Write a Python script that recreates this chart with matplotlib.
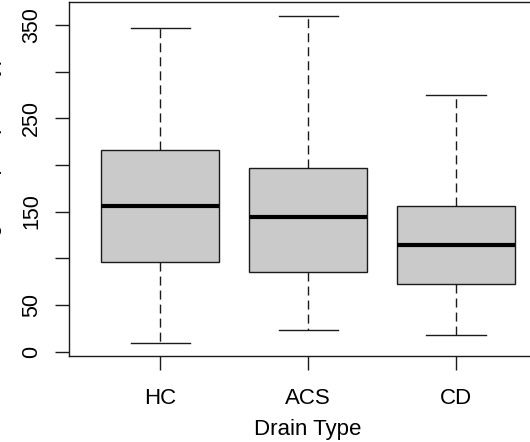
import matplotlib
matplotlib.use("Agg")
import matplotlib.pyplot as plt

plt.rcParams['font.family'] = ['Liberation Sans', 'DejaVu Sans']

# box statistics
drain_types = ["HC", "ACS", "CD"]
whisker_low = [9, 23, 18]
q1 = [96, 85, 72]
medians = [156, 144, 114]
q3 = [216, 197, 156]
whisker_high = [347, 360, 275]

y_ticks = [0, 50, 100, 150, 200, 250, 300, 350]
y_tick_labels = ["0", "50", "", "150", "", "250", "", "350"]

stats = []
for i in range(len(drain_types)):
    stats.append({
        "label": drain_types[i],
        "whislo": whisker_low[i],
        "q1": q1[i],
        "med": medians[i],
        "q3": q3[i],
        "whishi": whisker_high[i],
        "fliers": [],
    })

fig = plt.figure(figsize=(5.3, 4.42), dpi=100)
# the original is cropped on the left and right, so the axes run past the figure edge
ax = fig.add_axes([68.5 / 530, 86 / 442, (547.8 - 68.5) / 530, 354 / 442])

edge = "#1a1a1a"
ax.bxp(stats, positions=[1, 2, 3], widths=0.8, capwidths=0.4,
       patch_artist=True, showfliers=False,
       boxprops=dict(facecolor="#cacaca", edgecolor=edge, linewidth=1.0),
       medianprops=dict(color="black", linewidth=3.0, solid_capstyle="butt"),
       whiskerprops=dict(color=edge, linewidth=1.0, linestyle=(0, (6.5, 3.6))),
       capprops=dict(color=edge, linewidth=1.0))

ax.set_xlim(0.38, 3.62)
ax.set_ylim(-4.8, 374.5)

ax.set_yticks(y_ticks)
ax.set_yticklabels(y_tick_labels, rotation=90, va="center", fontsize=15.5)
ax.set_xticks([1, 2, 3])
ax.set_xticklabels(drain_types, fontsize=16)
ax.tick_params(axis="y", length=10, width=1.0, pad=9, color=edge)
ax.tick_params(axis="x", length=10, width=1.0, pad=13, color=edge)

for s in ax.spines.values():
    s.set_linewidth(1.0)
    s.set_color(edge)

ax.set_xlabel("Drain Type", fontsize=16, labelpad=7)
# y label is mostly cut off at the left edge in the original
ax.set_ylabel("Drainage output (ml/day)", fontsize=16)
ax.yaxis.set_label_coords((2 - 68.5) / 479.3, 0.5)

fig.savefig("out.png", dpi=100)
